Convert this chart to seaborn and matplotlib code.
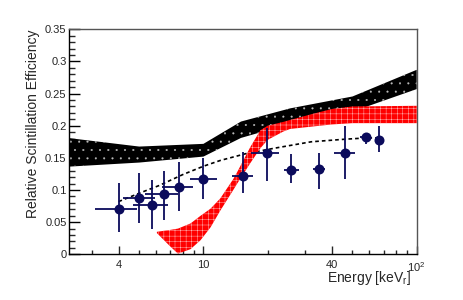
import numpy as np
import pandas as pd
import matplotlib
matplotlib.use("Agg")
import matplotlib.pyplot as plt
from matplotlib.ticker import FixedLocator, NullFormatter, MultipleLocator
import seaborn as sns

# ---- data ----
energy = [4.0, 5.0, 5.75, 6.5, 7.7, 9.9, 15.3, 19.8, 25.8, 34.9, 46.1, 57.7, 66.7]
eff = [0.071, 0.087, 0.076, 0.094, 0.104, 0.117, 0.122, 0.157, 0.131, 0.133, 0.157, 0.182, 0.178]
eff_lo = [0.035, 0.049, 0.040, 0.053, 0.068, 0.086, 0.096, 0.114, 0.111, 0.101, 0.117, 0.171, 0.159]
eff_hi = [0.111, 0.126, 0.115, 0.129, 0.143, 0.150, 0.159, 0.196, 0.156, 0.157, 0.199, 0.189, 0.199]
e_lo = [3.11, 4.2, 4.67, 5.33, 6.38, 8.67, 13.6, 16.7, 23.9, 32.8, 41.0, 54.3, 64.0]
e_hi = [4.88, 5.94, 6.85, 7.64, 8.98, 11.6, 17.0, 22.5, 28.1, 37.2, 51.4, 61.1, 69.5]

fit_E = [4, 5, 6.2, 8, 10, 12, 16, 21.5, 32, 46, 58, 67]
fit_y = [0.082, 0.095, 0.107, 0.124, 0.137, 0.146, 0.157, 0.165, 0.175, 0.179, 0.181, 0.181]

black_E = [2.35, 5.0, 10.0, 15.0, 25.5, 50.0, 100.0]
black_lo = [0.1364, 0.1427, 0.152, 0.181, 0.203, 0.222, 0.257]
black_hi = [0.1807, 0.1676, 0.1718, 0.2065, 0.227, 0.2455, 0.287]

red_E = [6.05, 7.0, 7.6, 8.7, 9.7, 10.8, 12.0, 13.8, 14.4, 16.6, 18.5, 20.0, 23.7, 25.5, 33.0, 40.0, 50.0, 100.0]
red_lo = [0.033, 0.012, 0.001, 0.008, 0.022, 0.042, 0.068, 0.100, 0.110, 0.142, 0.165, 0.178, 0.191, 0.195, 0.199, 0.202, 0.204, 0.204]
red_hi = [0.035, 0.038, 0.040, 0.048, 0.060, 0.071, 0.087, 0.117, 0.128, 0.167, 0.193, 0.200, 0.206, 0.209, 0.219, 0.226, 0.230, 0.231]

xticks = [4, 10, 40, 100]
xticklabels = ["4", "10", "40", "$10^{2}$"]
xminor = [3, 5, 6, 7, 8, 9, 20, 30, 50, 60, 70, 80, 90]

sns.set_theme(style="ticks")
plt.rcParams["font.family"] = ["Liberation Sans", "DejaVu Sans"]
plt.rcParams["mathtext.fontset"] = "custom"
plt.rcParams["mathtext.rm"] = "Liberation Sans"
plt.rcParams["mathtext.it"] = "Liberation Sans:italic"

fig = plt.figure(figsize=(4.63, 3.0), dpi=100)
ax = fig.add_axes([69.3 / 463, 1 - 254.3 / 300, (416.7 - 69.3) / 463, (254.3 - 29.3) / 300])

navy = "#0b0b5c"

plt.rcParams["hatch.linewidth"] = 0.25
ax.fill_between(black_E, black_lo, black_hi, facecolor="black", edgecolor="#bbbbbb",
                hatch="..", linewidth=0, zorder=1)
df_fit = pd.DataFrame({"E": fit_E, "y": fit_y})
sns.lineplot(data=df_fit, x="E", y="y", ax=ax, color="black", linestyle=(0, (2.2, 1.8)),
             linewidth=1.2, zorder=2)
plt.rcParams["hatch.linewidth"] = 0.3
ax.fill_between(red_E, red_lo, red_hi, facecolor="#ff0000", edgecolor="#ffd0d0",
                hatch="+++", linewidth=0, zorder=3)

E = np.array(energy)
Y = np.array(eff)
xerr = [E - np.array(e_lo), np.array(e_hi) - E]
yerr = [Y - np.array(eff_lo), np.array(eff_hi) - Y]
ax.errorbar(E, Y, xerr=xerr, yerr=yerr, fmt="none", ecolor=navy, elinewidth=1.3,
            capsize=0, zorder=4)
df_pts = pd.DataFrame({"E": energy, "eff": eff})
sns.scatterplot(data=df_pts, x="E", y="eff", ax=ax, color=navy, s=52, edgecolor=navy,
                linewidth=0, zorder=5)

ax.set_xscale("log")
ax.set_xlim(2.35, 100)
ax.set_ylim(0, 0.35)

ax.xaxis.set_major_locator(FixedLocator(xticks))
ax.set_xticklabels(xticklabels)
ax.xaxis.set_minor_locator(FixedLocator(xminor))
ax.xaxis.set_minor_formatter(NullFormatter())
ax.yaxis.set_minor_locator(MultipleLocator(0.01))
ax.set_yticks([0, 0.05, 0.1, 0.15, 0.2, 0.25, 0.3, 0.35])
ax.set_yticklabels(["0", "0.05", "0.1", "0.15", "0.2", "0.25", "0.3", "0.35"])

ax.tick_params(axis="y", which="major", direction="in", length=7.7, width=1, labelsize=8,
               pad=2, left=True, right=False, color="black")
ax.tick_params(axis="y", which="minor", direction="in", length=4, width=1, left=True, right=False)
ax.tick_params(axis="x", which="major", direction="in", length=5.5, width=1, labelsize=8,
               pad=4, bottom=True, top=False)
ax.tick_params(axis="x", which="minor", direction="in", length=2.6, width=1, bottom=True, top=False)

for s in ["left", "bottom"]:
    ax.spines[s].set_color("black")
    ax.spines[s].set_linewidth(1.0)
for s in ["top", "right"]:
    ax.spines[s].set_visible(True)
    ax.spines[s].set_color("#555555")
    ax.spines[s].set_linewidth(1.0)

ax.set_xlabel("Energy [keV$_{\\mathrm{r}}$]", fontsize=10, loc="right")
ax.xaxis.set_label_coords(0.985, -0.065)
ax.set_ylabel("Relative Scintillation Efficiency", fontsize=10, loc="top")
ax.yaxis.set_label_coords(-0.084, 1.0)

fig.savefig("out.png", dpi=100)
